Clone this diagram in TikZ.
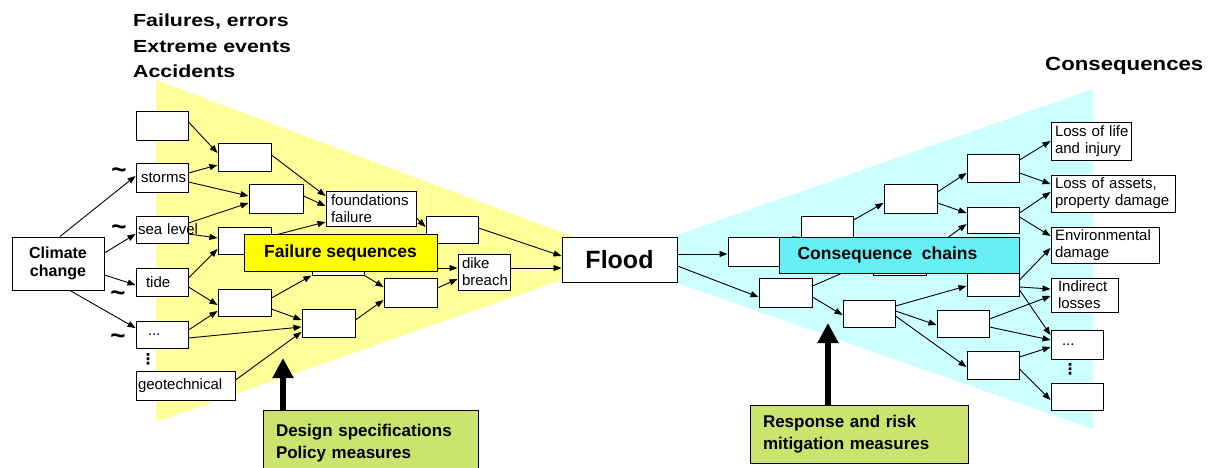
\documentclass[tikz,border=0pt]{standalone}
\usepackage{fontspec}
\setmainfont{Liberation Sans}
\newfontfamily\titlefont[FakeStretch=1.22]{Liberation Sans}
\newfontfamily\consfont[FakeStretch=1.17]{Liberation Sans}
\newfontfamily\dvfont{DejaVu Sans}
\usetikzlibrary{arrows.meta}
\pgfdeclarelayer{bg}
\pgfdeclarelayer{arrowlayer}
\pgfsetlayers{bg,arrowlayer,main}
\definecolor{ylw}{RGB}{255,255,153}
\definecolor{cyn}{RGB}{204,255,255}
\definecolor{fsq}{RGB}{255,255,0}
\definecolor{cch}{RGB}{102,238,245}
\definecolor{msr}{RGB}{204,228,110}
\newcommand\Bx[6]{\node[bx, minimum width={(#4-#2)*1pt}, minimum height={(#5-#3)*1pt}, #6] (#1) at ({(#2+#4)/2},{(#3+#5)/2})}
\tikzset{
 bx/.style={draw, fill=white, line width=1pt, inner sep=0pt, font=\fontsize{15}{17}\selectfont},
 lt/.style 2 args={inner xsep=#1pt, text width=#2pt, align=left},
 arr/.style={-{Triangle[length=8pt,width=6pt]}, line width=0.9pt},
 big/.style={-{Triangle[length=20pt,width=20pt]}, line width=5.5pt},
 ttl/.style={anchor=base west, inner sep=0pt, font=\titlefont\bfseries\fontsize{17.5}{20}\selectfont},
 bld/.style={font=\bfseries\fontsize{17.5}{20}\selectfont},
 tld/.style={inner sep=0pt, font=\bfseries\fontsize{26}{26}\selectfont},
 vd/.style={inner sep=0pt, font=\dvfont\bfseries\fontsize{15}{15}\selectfont},
}
\begin{document}
\begin{tikzpicture}[x=1pt,y=-1pt]
\useasboundingbox (0,0) rectangle (1220,468);
\begin{pgfonlayer}{bg}
\fill[ylw] (156,80) -- (627,257) -- (156,422) -- cycle;
\fill[cyn] (1093,89) -- (609,259) -- (1093,429) -- cycle;
\end{pgfonlayer}

% titles
\node[ttl] (t1) at (133,27) {Failures, errors};
\node[ttl] (t2) at (133,53) {Extreme events};
\node[ttl] (t3) at (133,78) {Accidents};
\node[anchor=base west, inner sep=0pt, font=\consfont\bfseries\fontsize{19}{22}\selectfont] (t4) at (1045,71) {Consequences};

% left side boxes
\Bx{cc}{12}{237}{104}{290}{align=center, font=\bfseries\fontsize{16}{18}\selectfont} {Climate\\change};
\Bx{b0}{136}{112}{188}{140}{} {};
\Bx{storms}{136}{163}{188}{192}{lt={5}{42}} {storms};
\Bx{sea}{136}{216}{188}{243}{lt={2}{48}} {\mbox{sea level}};
\Bx{tide}{136}{268}{188}{296}{lt={10}{32}} {tide};
\Bx{dts}{136}{321}{188}{348}{lt={12}{28}} {...};
\Bx{geo}{136}{371}{235}{400}{lt={2}{95}} {geotechnical};
\Bx{A}{218}{143}{271}{171}{} {};
\Bx{B}{249}{184}{303}{213}{} {};
\Bx{C}{218}{227}{271}{254}{} {};
\Bx{E}{218}{289}{271}{316}{} {};
\Bx{D}{312}{247}{364}{275}{} {};
\Bx{F}{302}{309}{355}{337}{} {};
\Bx{found}{326}{191}{416}{226}{lt={5}{80}} {\mbox{foundations}\\\mbox{failure}};
\Bx{G}{426}{216}{478}{243}{} {};
\Bx{H}{384}{278}{437}{307}{} {};
\Bx{dike}{458}{254}{510}{290}{lt={4}{44}} {dike\\\mbox{breach}};
\Bx{flood}{562}{237}{677}{282}{font=\bfseries\fontsize{25}{28}\selectfont} {Flood};

% right side boxes
\Bx{R1}{728}{237}{781}{266}{} {};
\Bx{R2}{759}{278}{812}{307}{} {};
\Bx{R3}{801}{216}{853}{245}{} {};
\Bx{R4}{884}{184}{937}{213}{} {};
\Bx{R5}{967}{154}{1019}{182}{} {};
\Bx{R6}{967}{207}{1019}{233}{} {};
\Bx{R7}{873}{246}{926}{275}{} {};
\Bx{R8}{967}{268}{1019}{296}{} {};
\Bx{R9}{843}{300}{895}{327}{} {};
\Bx{R10}{937}{310}{989}{337}{} {};
\Bx{R11}{967}{351}{1019}{379}{} {};
\Bx{c1}{1051}{123}{1131}{160}{lt={4}{72}} {\mbox{Loss of life}\\\mbox{and injury}};
\Bx{c2}{1051}{175}{1175}{212}{lt={4}{116}} {\mbox{Loss of assets,}\\\mbox{property damage}};
\Bx{c3}{1051}{227}{1159}{263}{lt={4}{100}} {\mbox{Environmental}\\\mbox{damage}};
\Bx{c4}{1051}{278}{1118}{312}{lt={7}{53}} {\mbox{Indirect}\\\mbox{losses}};
\Bx{c5}{1051}{330}{1103}{359}{lt={11}{30}} {...};
\Bx{c6}{1051}{383}{1103}{410}{} {};

% overlay labels
\Bx{fs}{244}{234}{437}{271}{bld, fill=fsq} {Failure sequences};
\Bx{cch}{779}{237}{1019}{273}{bld, fill=cch} {Consequence\hspace{0.55em}chains\hspace*{23pt}};
\Bx{des}{263}{410}{478}{476}{lt={13}{189}, fill=msr, font=\bfseries\fontsize{17}{22}\selectfont} {Design specifications\\Policy measures};
\Bx{resp}{750}{405}{968}{463}{lt={13}{192}, fill=msr, font=\bfseries\fontsize{17}{22}\selectfont} {Response and risk\\mitigation measures};

% tildes and dots
\node[tld] (tl1) at (119,173) {\textasciitilde};
\node[tld] (tl2) at (119,230) {\textasciitilde};
\node[tld] (tl3) at (118,296) {\textasciitilde};
\node[tld] (tl4) at (118,339) {\textasciitilde};
\node[vd] (v1) at (148,359) {⋮};
\node[vd] (v2) at (1070,369) {⋮};

% thick arrows
\coordinate (desTip) at (283,358);
\coordinate (respTip) at (828,323);
\draw[big] (des.north -| desTip) -- (desTip);
\draw[big] (resp.north -| respTip) -- (respTip);

\begin{pgfonlayer}{arrowlayer}
\draw[arr] (cc.north -| 60,0) -- (storms.west |- 0,176);
\draw[arr] (cc.east |- 0,253) -- (sea.west |- 0,234);
\draw[arr] (cc.east |- 0,275) -- (tide.west |- 0,285);
\draw[arr] (cc.south -| 70,0) -- (dts.west |- 0,328);
\draw[arr] (b0.east |- 0,122) -- (A.west |- 0,153);
\draw[arr] (storms.east |- 0,173) -- (A.west |- 0,165);
\draw[arr] (storms.east |- 0,182) -- (B.west |- 0,196);
\draw[arr] (sea.east |- 0,223) -- (B.west |- 0,203);
\draw[arr] (sea.east |- 0,234) -- (C.west |- 0,238);
\draw[arr] (tide.east |- 0,278) -- (C.west |- 0,249);
\draw[arr] (tide.east |- 0,287) -- (E.west |- 0,305);
\draw[arr] (dts.east |- 0,330) -- (E.west |- 0,311);
\draw[arr] (dts.east |- 0,338) -- (F.west |- 0,327);
\draw[arr] (geo.east |- 0,380) -- (F.west |- 0,332);
\draw[arr] (E.east |- 0,309) -- (F.west |- 0,320);
\draw[arr] (E.east |- 0,298) -- (D.south west);
\draw[arr] (A.east |- 0,155) -- (found.west |- 0,196);
\draw[arr] (B.east |- 0,196) -- (found.west |- 0,206);
\draw[arr] (C.east |- 0,236) -- (found.west |- 0,222);
\draw[arr] (found.east |- 0,218) -- (G.west |- 0,227);
\draw[arr] (G.east |- 0,228) -- (flood.west |- 0,256);
\draw[arr] (D.east |- 0,268) -- (dike.west |- 0,268);
\draw[arr] (D.south east) -- (H.west |- 0,287);
\draw[arr] (F.east |- 0,320) -- (H.west |- 0,300);
\draw[arr] (H.east |- 0,288) -- (dike.west |- 0,279);
\draw[arr] (dike.east |- 0,268) -- (flood.west |- 0,268);
% right
\draw[arr] (flood.east |- 0,254) -- (R1.west |- 0,254);
\draw[arr] (flood.east |- 0,266) -- (R2.west |- 0,297);
\draw[arr] (R1.east |- 0,243) -- (R3.west |- 0,237);
\draw[arr] (R2.east |- 0,286) -- (R7.west |- 0,260);
\draw[arr] (R2.east |- 0,297) -- (R9.west |- 0,315);
\draw[arr] (R3.east |- 0,220) -- (R4.west |- 0,203);
\draw[arr] (R4.east |- 0,192) -- (R5.west |- 0,173);
\draw[arr] (R4.east |- 0,203) -- (R6.west |- 0,213);
\draw[arr] (R7.east |- 0,253) -- (R6.west |- 0,224);
\draw[arr] (R9.east |- 0,306) -- (R8.west |- 0,286);
\draw[arr] (R9.east |- 0,311) -- (R10.west |- 0,325);
\draw[arr] (R9.east |- 0,316) -- (R11.west |- 0,367);
\draw[arr] (R5.east |- 0,160) -- (c1.west |- 0,141);
\draw[arr] (R5.east |- 0,173) -- (c2.west |- 0,184);
\draw[arr] (R6.east |- 0,213) -- (c2.west |- 0,192);
\draw[arr] (R6.east |- 0,217) -- (c3.west |- 0,236);
\draw[arr] (R8.east |- 0,280) -- (c3.west |- 0,248);
\draw[arr] (R8.east |- 0,287) -- (c4.west |- 0,289);
\draw[arr] (R8.east |- 0,290) -- (c5.west |- 0,335);
\draw[arr] (R10.east |- 0,319) -- (c4.west |- 0,296);
\draw[arr] (R10.east |- 0,327) -- (c5.west |- 0,340);
\draw[arr] (R11.east |- 0,357) -- (c5.west |- 0,347);
\draw[arr] (R11.east |- 0,369) -- (c6.west |- 0,400);
\end{pgfonlayer}
\end{tikzpicture}
\end{document}
